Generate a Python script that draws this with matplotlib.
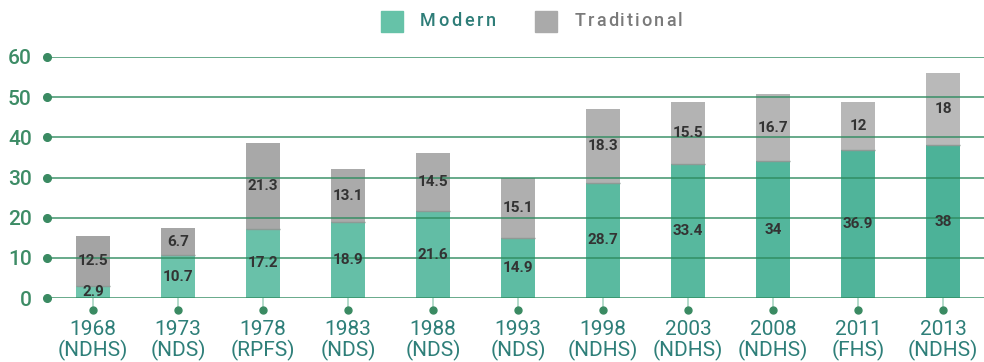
import numpy as np
import matplotlib.pyplot as plt
from matplotlib.colors import to_rgb
from matplotlib.patches import Rectangle

plt.rcParams['font.family'] = ['Roboto', 'DejaVu Sans']

# Contraceptive prevalence by survey
years = ["1968", "1973", "1978", "1983", "1988", "1993", "1998", "2003", "2008", "2011", "2013"]
surveys = ["NDHS", "NDS", "RPFS", "NDS", "NDS", "NDS", "NDHS", "NDHS", "NDHS", "FHS", "NDHS"]
modern = [2.9, 10.7, 17.2, 18.9, 21.6, 14.9, 28.7, 33.4, 34, 36.9, 38]
traditional = [12.5, 6.7, 21.3, 13.1, 14.5, 15.1, 18.3, 15.5, 16.7, 12, 18]
y_ticks = [0, 10, 20, 30, 40, 50, 60]

GRID = "#2E8B5F"
DOT = "#3A8A62"
YLAB = "#3D8C66"
XLAB = "#2E7F79"
STEM = "#A8D5C2"


def blend(c1, c2, n):
    a, b = np.array(to_rgb(c1)), np.array(to_rgb(c2))
    return [tuple(a + (b - a) * t) for t in np.linspace(0, 1, n)]


def spaced_text(fig, x_px, y_px, s, spacing_px, **kw):
    # draw a word glyph by glyph with extra tracking between letters
    r = fig.canvas.get_renderer()
    cur = x_px
    for ch in s:
        t = fig.text(cur / 984, 1 - y_px / 362, ch, ha="left", va="center", **kw)
        cur += t.get_window_extent(r).width + spacing_px


n = len(years)
x = np.arange(n)
modern_cols = blend("#70C5AD", "#4CB298", n)
trad_cols = blend("#A4A4A4", "#B9B9B9", n)

fig = plt.figure(figsize=(9.84, 3.62), dpi=100)
ax = fig.add_axes([47 / 984, 64 / 362, 937 / 984, 241 / 362])
ax.set_xlim(-46 / 85, 10 + 41 / 85)
ax.set_ylim(0, 60)

w = 0.41
modern_arr = np.array(modern)
trad_arr = np.array(traditional)
ax.bar(x, modern_arr, w, color=modern_cols, zorder=2)
ax.bar(x, trad_arr, w, bottom=modern_arr, color=trad_cols, zorder=2)
ax.hlines(modern_arr, x - w / 2, x + w / 2, color="#8E9A95", lw=1, zorder=2.5)

# horizontal guides drawn over the bars
for t in y_ticks:
    ax.axhline(t, color=GRID, lw=1.2, alpha=0.85, zorder=3)
ax.plot(np.full(len(y_ticks), ax.get_xlim()[0]), y_ticks, "o", color=DOT,
        ms=5.5, clip_on=False, zorder=4)

# value labels centred in each segment
for xi, m, t in zip(x, modern, traditional):
    ax.text(xi, m / 2, f"{m:g}", ha="center", va="center", fontsize=11,
            fontweight="bold", color="#333333", zorder=5)
    ax.text(xi, m + t / 2, f"{t:g}", ha="center", va="center", fontsize=11,
            fontweight="bold", color="#333333", zorder=5)

# stems and dots under each category
for xi in x:
    ax.plot([xi, xi], [0, -3], color=STEM, lw=1.2, clip_on=False, zorder=1)
ax.plot(x, np.full(n, -3.0), "o", color=DOT, ms=5, clip_on=False, zorder=4)

ax.set_yticks(y_ticks)
ax.set_yticklabels([str(t) for t in y_ticks], fontsize=15, color=YLAB,
                   fontweight="medium")
ax.set_xticks(x)
ax.set_xticklabels([f"{y}\n({s})" for y, s in zip(years, surveys)],
                   fontsize=15, color=XLAB, linespacing=1.05)
ax.tick_params(axis="y", length=0, pad=11)
ax.tick_params(axis="x", length=0, pad=16)
for sp in ax.spines.values():
    sp.set_visible(False)

# legend across the top
fig.patches.append(Rectangle((381 / 984, 1 - 32 / 362), 22 / 984, 21 / 362,
                             transform=fig.transFigure, color="#66C2A8"))
spaced_text(fig, 420, 21, "Modern", 2.6, fontsize=13, fontweight="medium",
            color="#2E7D78")
fig.patches.append(Rectangle((535 / 984, 1 - 32 / 362), 22 / 984, 21 / 362,
                             transform=fig.transFigure, color="#AAAAAA"))
spaced_text(fig, 575, 21, "Traditional", 2.0, fontsize=13, fontweight="medium",
            color="#7A7A7A")

fig.savefig("out.png", dpi=100)
